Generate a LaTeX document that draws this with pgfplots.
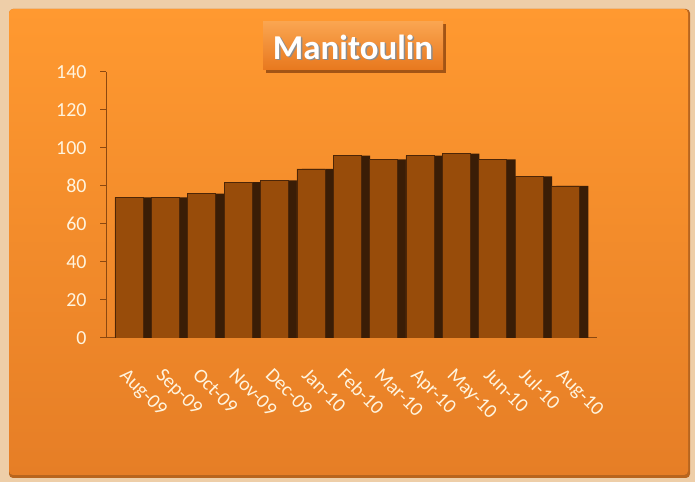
\documentclass[border=0pt]{standalone}
\usepackage{pgfplots}
\pgfplotsset{compat=1.18}
\usepackage{fontspec}
\setmainfont{Carlito}
\definecolor{outer}{RGB}{238,206,168}
\definecolor{paneltop}{RGB}{255,153,48}
\definecolor{panelbot}{RGB}{230,126,38}
\definecolor{barface}{RGB}{152,76,10}
\definecolor{barside}{RGB}{58,29,6}
\definecolor{axisc}{RGB}{140,72,16}
\definecolor{lab}{RGB}{255,244,222}
\definecolor{titletop}{RGB}{250,165,80}
\definecolor{titlebot}{RGB}{232,120,30}
\begin{document}
\begin{tikzpicture}[x=1bp,y=1bp]
\fill[outer] (0,0) rectangle (695,482);
\fill[panelbot!80!black, rounded corners=4bp] (9,4) rectangle (690,473);
\shade[top color=paneltop, bottom color=panelbot, rounded corners=4bp] (9,7) rectangle (688,473);
\fill[titlebot!70!black] (266,409) rectangle (446,458);
\shade[top color=titletop, bottom color=titlebot] (263,412) rectangle (443,460);
\node[text=black!45, font=\fontsize{35}{35}\selectfont\bfseries] at (354.5,433.5) {Manitoulin};
\node[text=white, font=\fontsize{35}{35}\selectfont\bfseries] at (353,435) {Manitoulin};
\begin{axis}[
  at={(106bp,144bp)}, anchor=south west,
  scale only axis, width=491bp, height=266bp,
  xmin=-0.5, xmax=13, ymin=0, ymax=140,
  axis x line*=bottom, axis y line*=left,
  axis line style={axisc, line width=1bp},
  ytick={0,20,...,140},
  xtick={0,...,12},
  xticklabels={Aug-09,Sep-09,Oct-09,Nov-09,Dec-09,Jan-10,Feb-10,Mar-10,Apr-10,May-10,Jun-10,Jul-10,Aug-10},
  minor xtick={-0.5,0.5,...,12.5},
  xtick style={draw=none},
  minor tick style={axisc, line width=1bp},
  ytick style={axisc, line width=1bp},
  tick align=outside,
  major tick length=6bp, minor tick length=6bp,
  /pgf/number format/assume math mode=true,
  yticklabel style={text=lab, font=\fontsize{20}{20}\selectfont, xshift=-10bp},
  xticklabel style={text=lab, font=\fontsize{20}{20}\selectfont, xshift=4bp, yshift=-18bp, rotate=-45, anchor=north west},
]
\addplot[ybar, bar width=32bp, bar shift=11.8bp, fill=barside, draw=none] coordinates {
(0,74) (1,74) (2,76) (3,82) (4,83) (5,89) (6,96) (7,94) (8,96) (9,97) (10,94) (11,85) (12,80)};
\addplot[ybar, bar width=28bp, bar shift=4.8bp, fill=barface, draw=barside!80!barface, line width=0.6bp] coordinates {
(0,74) (1,74) (2,76) (3,82) (4,83) (5,89) (6,96) (7,94) (8,96) (9,97) (10,94) (11,85) (12,80)};
\end{axis}
\end{tikzpicture}
\end{document}
